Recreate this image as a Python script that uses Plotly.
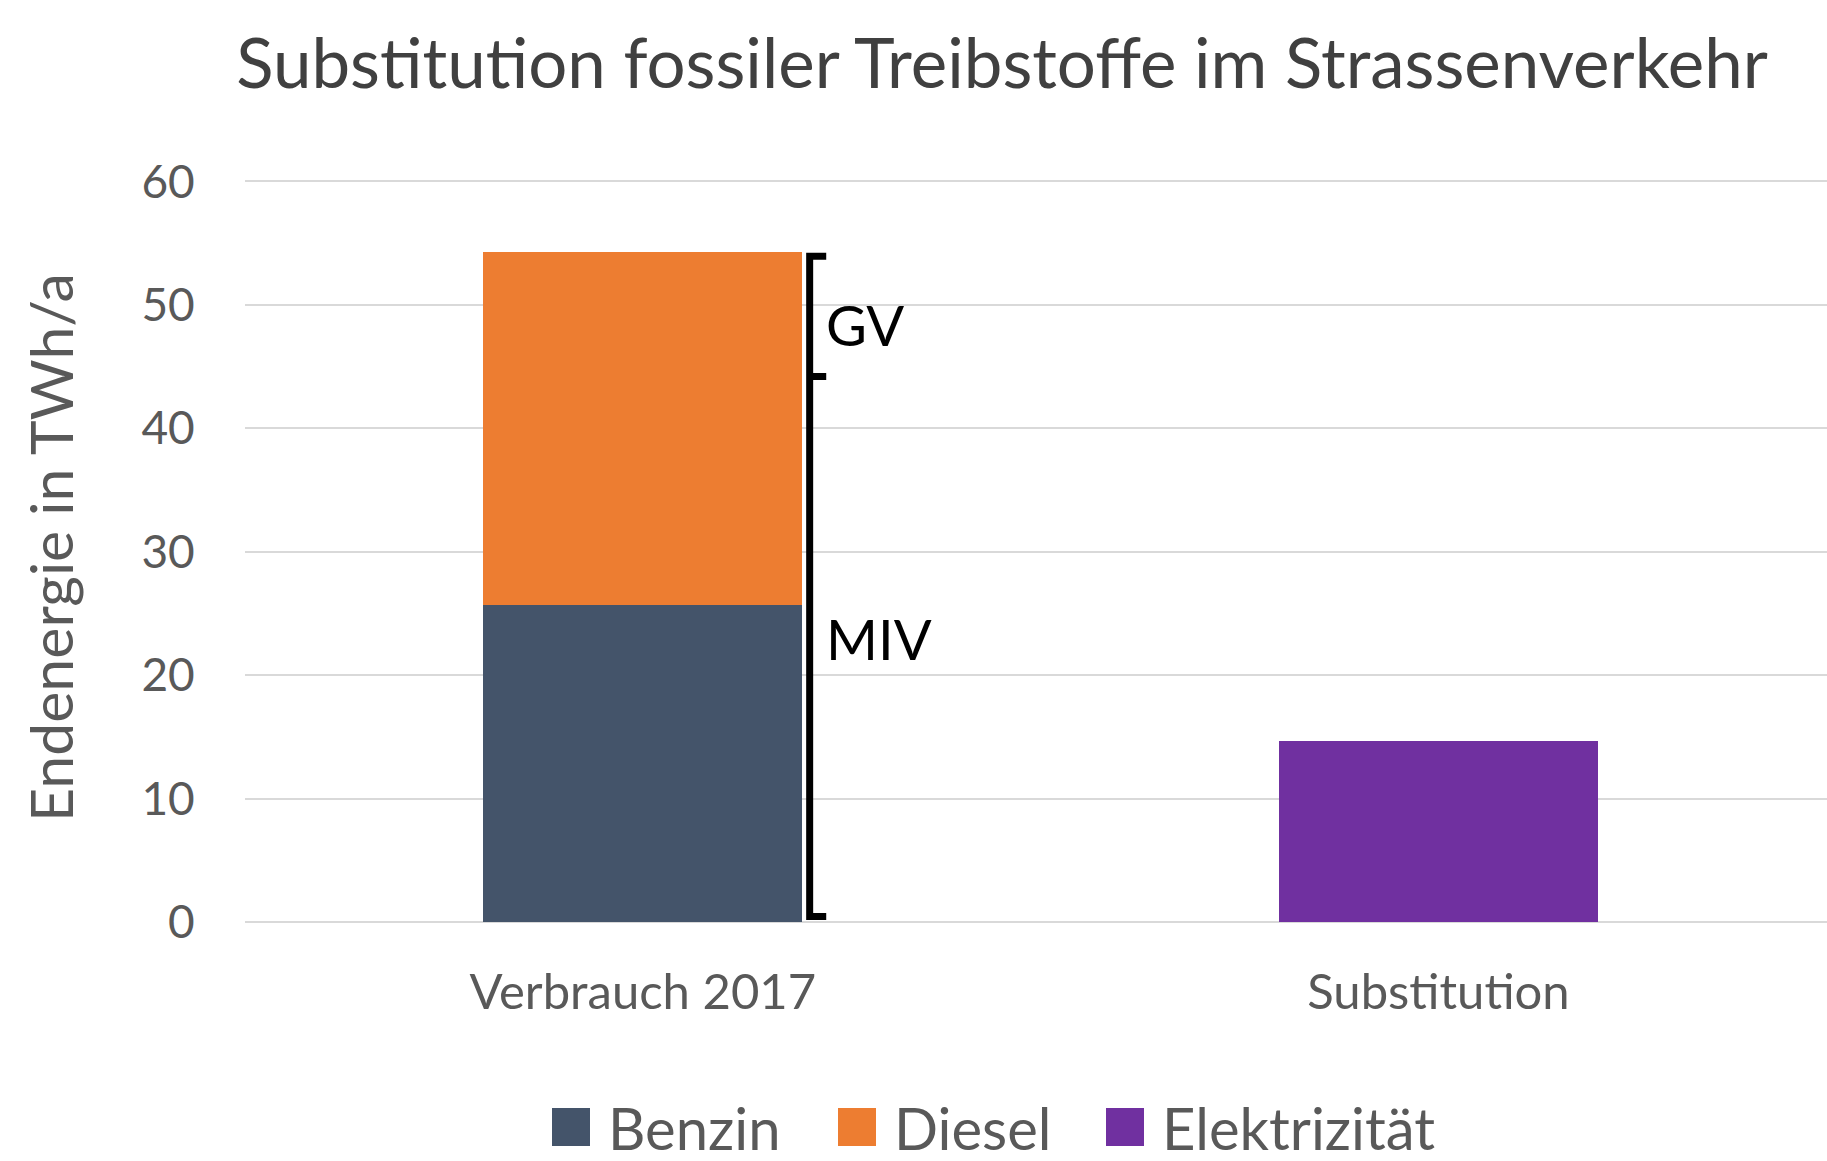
import plotly.graph_objects as go

# ---- data ----
categories = ["Verbrauch 2017", "Substitution"]
series_names = ["Benzin", "Diesel", "Elektrizität"]
benzin = [25.7, 0]
diesel = [28.55, 0]
elektrizitaet = [0, 14.65]
series_colors = ["#44546A", "#ED7D31", "#7030A0"]
y_ticks = [0, 10, 20, 30, 40, 50, 60]

# bracket (segments MIV / GV)
segment_names = ["MIV", "GV"]
segment_bounds = [0.45, 44.2, 53.95]
segment_label_y = [23.0, 48.4]

# ---- layout helpers (pixel geometry) ----
W, H = 1827, 1161
ML, MR, MT, MB = 245, 0, 179, 239
PW = W - ML - MR
PH = H - MT - MB

def px_x(px):
    return (px - ML) / PW

def px_y(py):
    return (H - MB - py) / PH

FONT = "Lato, Carlito, Calibri, 'Open Sans', sans-serif"
GREY = "#595959"

fig = go.Figure()
x_idx = list(range(len(categories)))
for name, vals, col in zip(series_names, [benzin, diesel, elektrizitaet], series_colors):
    fig.add_trace(go.Bar(
        x=x_idx, y=vals, name=name, marker=dict(color=col, line=dict(width=0)),
        width=0.401, showlegend=False,
    ))

# bracket drawn with data y values
bx = 0.2097
bt = 0.2305
lo, mid, hi = segment_bounds
fig.add_trace(go.Scatter(
    x=[bt, bx, bx, bt, bx, bx, bt],
    y=[hi, hi, mid, mid, mid, lo, lo],
    mode="lines", line=dict(color="black", width=7),
    showlegend=False, hoverinfo="skip",
))
for name, ly in zip(segment_names, segment_label_y):
    fig.add_annotation(x=0.2275, y=ly, xref="x", yref="y", text=name,
                       showarrow=False, xanchor="left", yanchor="middle",
                       font=dict(family=FONT, size=56, color="black"))

# custom legend
legend_sq_px = [552, 838, 1106]
legend_yc = 1127
sq = 38
for name, col, lx in zip(series_names, series_colors, legend_sq_px):
    fig.add_shape(type="rect", xref="paper", yref="paper",
                  x0=px_x(lx), x1=px_x(lx + sq),
                  y0=px_y(legend_yc + sq / 2), y1=px_y(legend_yc - sq / 2),
                  fillcolor=col, line=dict(width=0))
    fig.add_annotation(x=px_x(lx + sq + 16), y=px_y(legend_yc), xref="paper", yref="paper",
                       text=name, showarrow=False, xanchor="left", yanchor="middle",
                       height=62, valign="middle",
                       font=dict(family=FONT, size=58, color=GREY))

# y axis title
fig.add_annotation(x=px_x(50), y=px_y(548), xref="paper", yref="paper",
                   text="Endenergie in TWh/a", textangle=-90, showarrow=False,
                   xanchor="center", yanchor="middle",
                   font=dict(family=FONT, size=59, color=GREY))

fig.update_layout(
    width=W, height=H,
    margin=dict(l=ML, r=MR, t=MT, b=MB),
    paper_bgcolor="white", plot_bgcolor="white",
    barmode="stack",
    showlegend=False,
    title=dict(text="Substitution fossiler Treibstoffe im Strassenverkehr",
               x=px_x(1002), xref="paper", xanchor="center",
               y=1 - 64 / H, yref="container", yanchor="middle",
               font=dict(family=FONT, size=69, color="#404040")),
    xaxis=dict(range=[-0.5, 1.5 - 9.3 / 795.8], tickvals=x_idx, ticktext=categories,
               showgrid=False, zeroline=False, showline=False,
               ticks="outside", ticklen=27, tickcolor="rgba(0,0,0,0)",
               tickfont=dict(family=FONT, size=49, color=GREY)),
    yaxis=dict(range=[0, 60.2], tickvals=y_ticks, showgrid=True, gridcolor="#D9D9D9",
               gridwidth=2, zeroline=True, zerolinecolor="#D9D9D9", zerolinewidth=2,
               showline=False, ticks="outside", ticklen=40, tickcolor="rgba(0,0,0,0)",
               tickfont=dict(family=FONT, size=46, color=GREY)),
)

fig.write_html(
    "out.html",
    config={"displayModeBar": False},
    post_script="document.body.style.margin='0';document.body.style.overflow='hidden';",
)
